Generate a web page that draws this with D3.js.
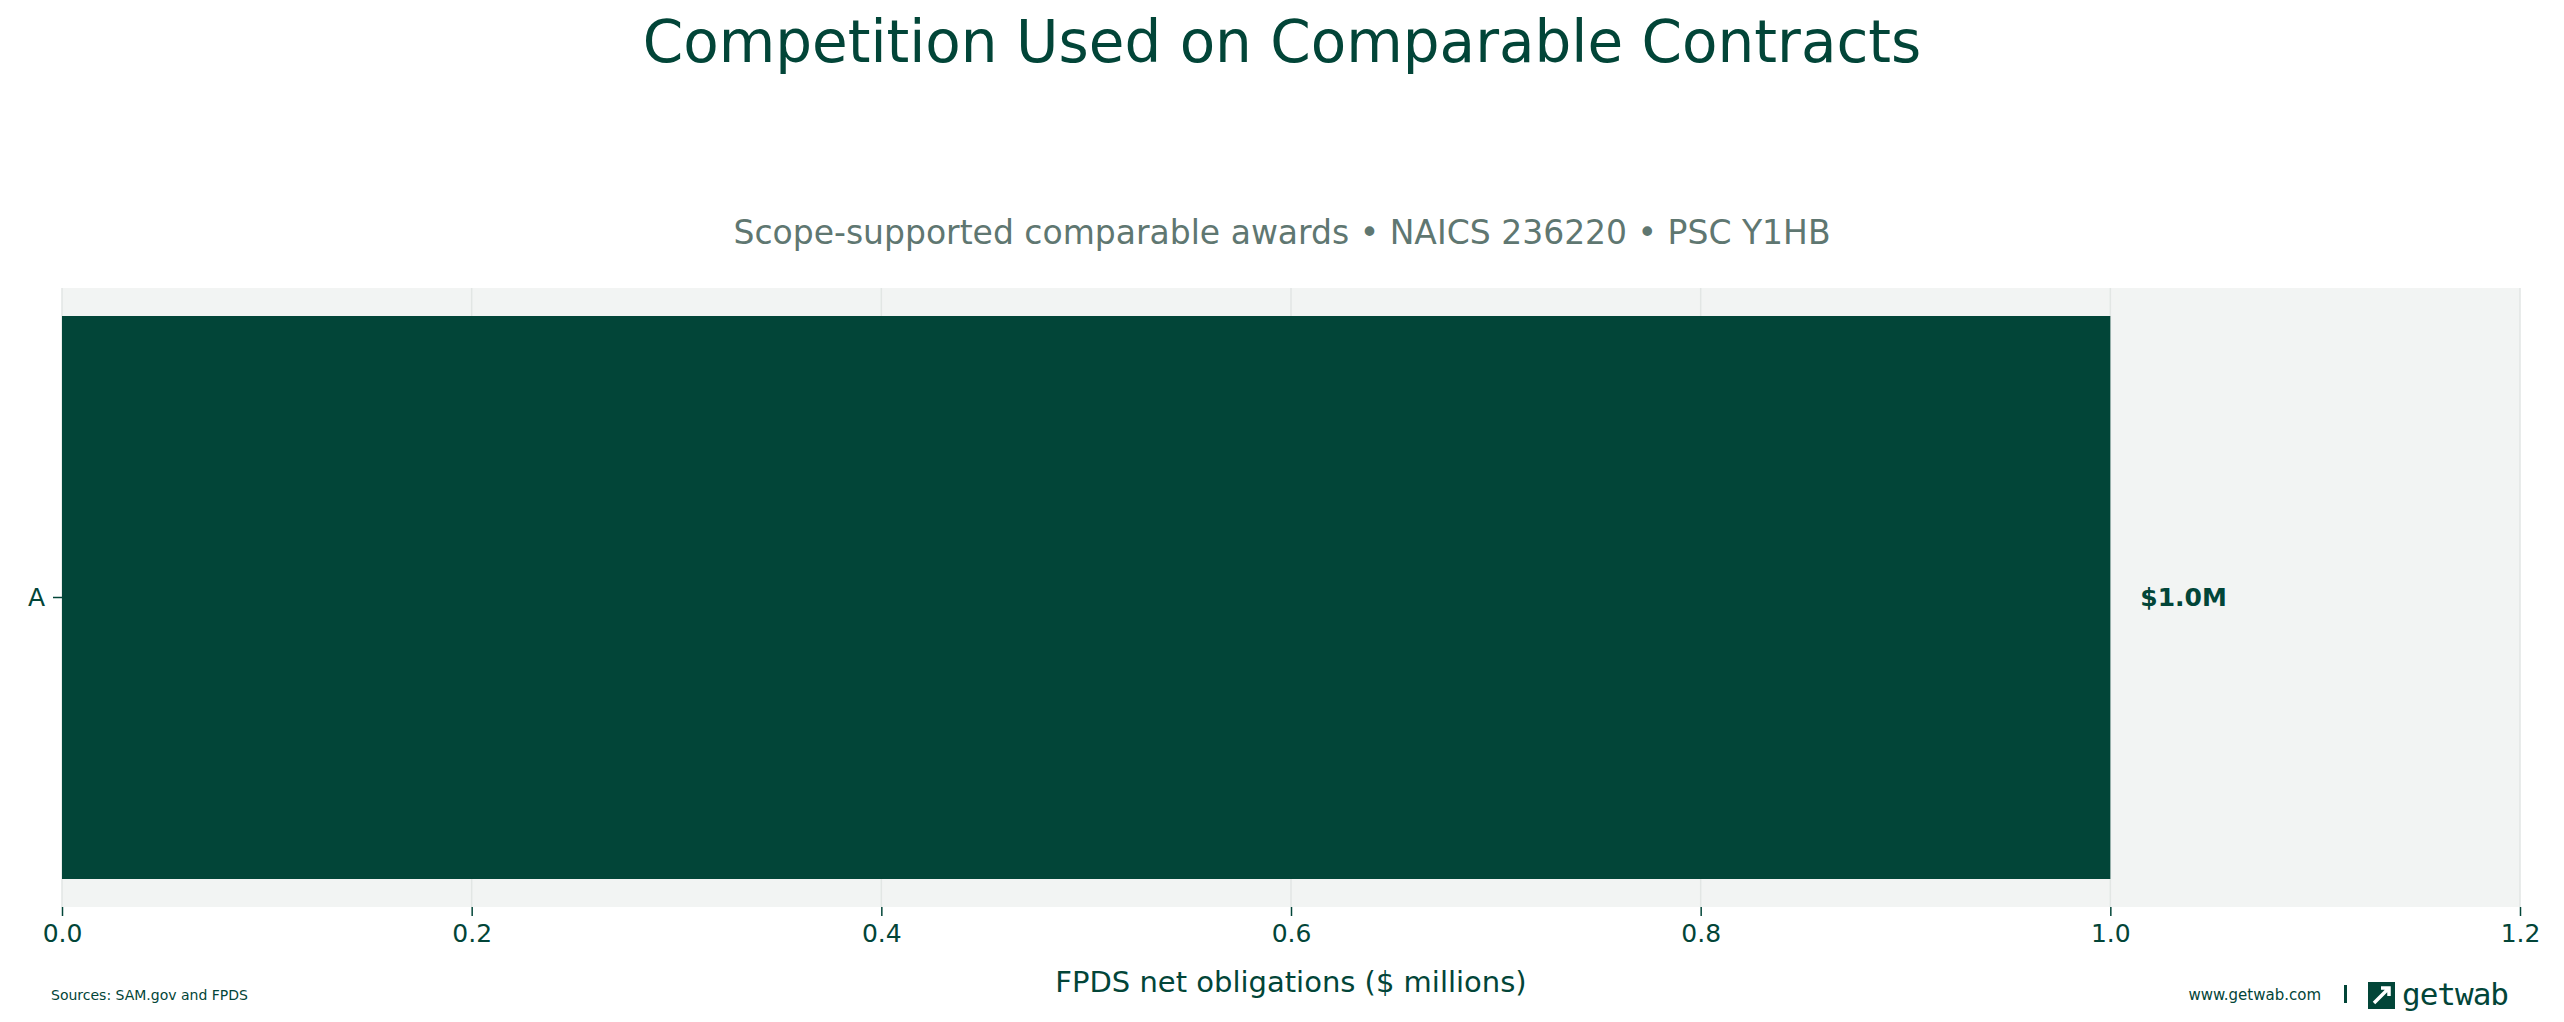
<!DOCTYPE html>
<html lang="en">
<head>
<meta charset="UTF-8">
<title>Competition Used on Comparable Contracts</title>
<script src="https://d3js.org/d3.v7.min.js"></script>
<style>
  body, html { margin: 0; padding: 0; overflow: hidden; background: #fff; }
  svg { display: block; font-family: "DejaVu Sans", sans-serif; }
</style>
</head>
<body>
<script>
    // Chart data
    const categories = ["A"];
    const values = [1.0];
    const valueLabels = ["$1.0M"];
    const xTicks = [0, 0.2, 0.4, 0.6, 0.8, 1.0, 1.2];

    const width = 2564, height = 1022;
    const dark = "#024538";
    const plot = { left: 62, right: 2520, top: 288, bottom: 907 };

    const svg = d3.select("body").append("svg")
        .attr("width", width).attr("height", height);

    // Title + subtitle
    svg.append("text").attr("x", width / 2).attr("y", 62)
        .attr("text-anchor", "middle").attr("fill", dark)
        .attr("font-size", 58).text("Competition Used on Comparable Contracts");
    svg.append("text").attr("x", width / 2).attr("y", 244)
        .attr("text-anchor", "middle").attr("fill", "#5f7771")
        .attr("font-size", 33).text("Scope-supported comparable awards • NAICS 236220 • PSC Y1HB");

    const x = d3.scaleLinear().domain([0, 1.2]).range([plot.left, plot.right]);
    const y = d3.scaleBand().domain(categories).range([plot.top, plot.bottom]).padding(0.0)
        .paddingInner(0).paddingOuter(0);
    // bar occupies the band minus a small margin (matplotlib-style)
    const barPad = 28;

    // plot background
    svg.append("rect").attr("x", plot.left).attr("y", plot.top)
        .attr("width", plot.right - plot.left).attr("height", plot.bottom - plot.top)
        .attr("fill", "#f2f4f3");

    // vertical grid
    svg.append("g").selectAll("line").data(xTicks).enter().append("line")
        .attr("x1", d => x(d)).attr("x2", d => x(d))
        .attr("y1", plot.top).attr("y2", plot.bottom)
        .attr("stroke", "#e2e6e4").attr("stroke-width", 1.5);

    // bars
    svg.append("g").selectAll("rect").data(categories).enter().append("rect")
        .attr("x", x(0)).attr("y", d => y(d) + barPad)
        .attr("width", (d, i) => x(values[i]) - x(0))
        .attr("height", y.bandwidth() - 2 * barPad)
        .attr("fill", dark);

    // value labels
    svg.append("g").selectAll("text").data(categories).enter().append("text")
        .attr("x", (d, i) => x(values[i]) + 30)
        .attr("y", d => y(d) + y.bandwidth() / 2)
        .attr("dy", "0.35em").attr("fill", dark)
        .attr("font-size", 25).attr("font-weight", "bold")
        .text((d, i) => valueLabels[i]);

    // x axis
    const xAxis = svg.append("g").attr("transform", `translate(0,${plot.bottom})`)
        .call(d3.axisBottom(x).tickValues(xTicks).tickFormat(d3.format(".1f")).tickSize(9).tickPadding(8));
    xAxis.select(".domain").remove();
    xAxis.selectAll("line").attr("stroke", dark).attr("stroke-width", 1.5);
    xAxis.selectAll("text").attr("fill", dark).attr("font-size", 25)
        .attr("font-family", "DejaVu Sans, sans-serif");

    // y axis
    const yAxis = svg.append("g").attr("transform", `translate(${plot.left},0)`)
        .call(d3.axisLeft(y).tickSize(9).tickPadding(8));
    yAxis.select(".domain").remove();
    yAxis.selectAll("line").attr("stroke", dark).attr("stroke-width", 1.5);
    yAxis.selectAll("text").attr("fill", dark).attr("font-size", 25)
        .attr("font-family", "DejaVu Sans, sans-serif");

    // x axis title
    svg.append("text").attr("x", (plot.left + plot.right) / 2).attr("y", 992)
        .attr("text-anchor", "middle").attr("fill", dark)
        .attr("font-size", 29).text("FPDS net obligations ($ millions)");

    // footer
    svg.append("text").attr("x", 51).attr("y", 1000).attr("fill", dark)
        .attr("font-size", 14).text("Sources: SAM.gov and FPDS");
    svg.append("text").attr("x", 2321).attr("y", 1000).attr("text-anchor", "end")
        .attr("fill", dark).attr("font-size", 15).text("www.getwab.com");
    svg.append("rect").attr("x", 2344).attr("y", 985).attr("width", 3).attr("height", 18).attr("fill", dark);

    // logo mark
    const logo = svg.append("g").attr("transform", "translate(2368,982)");
    logo.append("rect").attr("width", 27).attr("height", 27).attr("fill", dark);
    logo.append("path").attr("d", "M6 21 L21 6 M13 6 L21 6 L21 14")
        .attr("stroke", "#fff").attr("stroke-width", 3.5).attr("fill", "none");
    logo.append("rect").attr("x", 0).attr("y", 0).attr("width", 6).attr("height", 17).attr("fill", dark);
    svg.append("text").attr("x", 2402).attr("y", 1005).attr("fill", dark)
        .attr("font-size", 31).attr("font-family", "DejaVu Sans Mono, monospace")
        .attr("letter-spacing", -1).text("getwab");
</script>
</body>
</html>
